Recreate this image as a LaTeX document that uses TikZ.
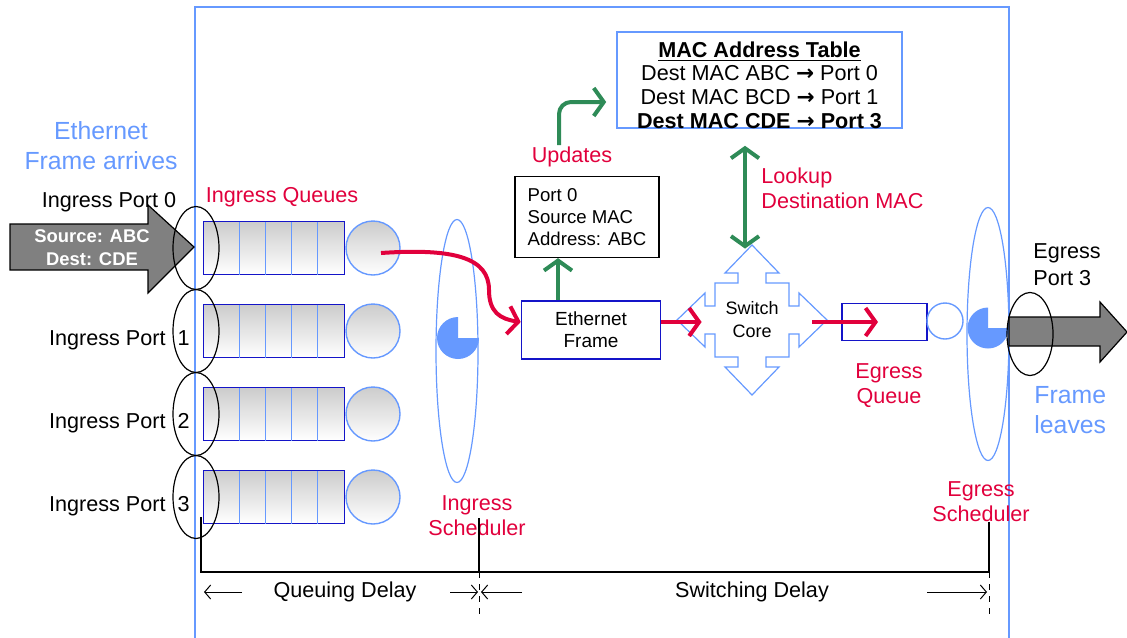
\documentclass[tikz,border=0pt]{standalone}
\usepackage{fontspec}
\setmainfont{Liberation Sans}
\newfontfamily\arrowfont{DejaVu Sans}
\usetikzlibrary{calc}
\usetikzlibrary{shapes.geometric}
\usetikzlibrary{arrows.meta}
\definecolor{skyblue}{RGB}{102,153,255}
\definecolor{qblue}{RGB}{20,20,200}
\definecolor{hotred}{RGB}{225,0,60}
\definecolor{leafgreen}{RGB}{46,139,87}
\definecolor{portgray}{RGB}{128,128,128}
\newcommand{\maps}{{\arrowfont\bfseries →}}

\begin{document}
\begin{tikzpicture}[x=0.5pt,y=-0.5pt,
    txt/.style={font=\fontsize{10.8}{12.5}\selectfont,align=center,inner sep=0pt},
    redtxt/.style={txt,text=hotred},
    bigtxt/.style={font=\fontsize{12.4}{15}\selectfont,align=center,inner sep=0pt,text=skyblue},
    queue/.style={rectangle,draw=qblue,line width=0.8pt,top color=gray!40,bottom color=white,
                  minimum width=70.5pt,minimum height=26.5pt,inner sep=0pt,outer sep=0pt},
    ball/.style={circle,draw=skyblue,line width=0.7pt,top color=gray!40,bottom color=white,
                 minimum size=27pt,inner sep=0pt,outer sep=0pt},
    port/.style={ellipse,draw=black,line width=0.6pt,minimum width=23pt,minimum height=41.5pt,inner sep=0pt},
    sched/.style={ellipse,draw=skyblue,line width=0.6pt,minimum width=21pt,inner sep=0pt},
    pie/.style={fill=skyblue},
    fatarrow/.style={fill=portgray,draw=black,line width=0.6pt},
    rarrow/.style={draw=hotred,line width=2pt,-{Straight Barb[length=5pt,width=14pt]}},
    garrow/.style={draw=leafgreen,line width=2pt,-{Straight Barb[length=5pt,width=14pt]}},
    dly/.style={line width=0.5pt,-{Straight Barb[length=3pt,width=7pt]}},
  ]
  \useasboundingbox (0,0) rectangle (1127,637);

  % switch frame
  \draw[skyblue,line width=0.8pt] (195,645) -- (195,7) -- (1009,7) -- (1009,645);

  % frame coming in
  \filldraw[fatarrow] (10,224) -- (148,224) -- (148,205) -- (194,247) -- (148,293) -- (148,270) -- (10,270) -- cycle;
  \node[txt,text=white,font=\bfseries\fontsize{9.2}{11.5}\selectfont] (src) at (92,248) {Source: ABC\\Dest: CDE};
  \node[bigtxt] (arrives) at (101,146) {Ethernet\\Frame arrives};

  % ingress ports and queues
  \foreach \i/\y in {0/248,1/331,2/414,3/497} {
    \node[queue] (q\i) at (274,\y) {};
    \foreach \d in {36,62,88,114}
      \draw[skyblue,line width=0.5pt] ($(q\i.north west)+(\d,0)$) -- ($(q\i.south west)+(\d,0)$);
    \node[ball] (c\i) at (373,\y) {};
    \node[port] (p\i) at (196,\y) {};
  }
  \node[txt] (lp0) at (109,202) {Ingress Port 0};
  \foreach \i in {1,2,3}
    \node[txt,anchor=east] (lp\i) at ($(p\i)+(-6,9)$) {Ingress Port\hspace{3pt} \i};
  \node[redtxt] (iqlbl) at (282,197) {Ingress Queues};

  % ingress scheduler
  \node[sched,minimum height=131.5pt] (isched) at (457,351) {};
  \fill[pie] ($(isched)+(1,-13)$) -- ++(0pt,10.5pt) arc[start angle=90,end angle=360,radius=10.5pt] -- cycle;
  \node[redtxt] (islbl) at (477,516) {Ingress\\Scheduler};

  % frame and learned entry
  \node[draw=qblue,line width=0.8pt,minimum width=69.5pt,minimum height=29pt,inner sep=0pt,
        font=\fontsize{9.5}{11}\selectfont,align=center] (efr) at (591,330) {Ethernet\\Frame};
  \node[draw=black,line width=0.6pt,minimum width=72pt,minimum height=40.5pt,inner sep=0pt,
        font=\fontsize{9.3}{11}\selectfont,align=left] (info) at (587,217) {Port 0\\Source MAC\\Address: ABC};
  \coordinate (gfoot) at ([xshift=-16.5pt]efr.north);
  \draw[garrow] (gfoot) -- (gfoot |- info.south);
  \node[redtxt] (upd) at (572,157) {Updates};

  % table
  \node[draw=skyblue,line width=0.8pt,minimum width=142.5pt,minimum height=48pt,inner sep=0pt] (mac) at (759.5,80) {};
  \node[font=\fontsize{10.8}{11.9}\selectfont,align=center,inner sep=0pt] (mactxt) at ($(mac.center)+(0,5)$)
        {\underline{\textbf{MAC Address Table}}\\Dest MAC ABC \maps{} Port 0\\Dest MAC BCD \maps{} Port 1\\\textbf{Dest MAC CDE \maps{} Port 3}};
  \coordinate (updfoot) at (559,145);
  \draw[garrow,rounded corners=6pt] (updfoot) |- ($(mac.west)+(-10,22)$);

  % switch core
  \node[font=\fontsize{9}{11.5}\selectfont,align=center,minimum size=75pt,inner sep=0pt] (core) at (752,320) {Switch\\Core};
  \draw[skyblue,line width=0.6pt,shift={(core.center)}]
    (0,-75) -- (27,-47) -- (14,-47) -- (14,-37) -- (37,-37) -- (37,-14) -- (47,-14) -- (47,-27)
    -- (75,0) -- (47,27) -- (47,14) -- (37,14) -- (37,37) -- (14,37) -- (14,47) -- (27,47)
    -- (0,75) -- (-27,47) -- (-14,47) -- (-14,37) -- (-37,37) -- (-37,14) -- (-47,14) -- (-47,27)
    -- (-75,0) -- (-47,-27) -- (-47,-14) -- (-37,-14) -- (-37,-37) -- (-14,-37) -- (-14,-47) -- (-27,-47) -- cycle;
  \draw[draw=leafgreen,line width=2pt,{Straight Barb[length=5pt,width=14pt]}-{Straight Barb[length=5pt,width=14pt]}]
    ($(mac.south)+(-14.5,17)$) -- ($(core.north)+(-7,4)$);
  \node[redtxt,align=left,anchor=west] (look) at (761,188) {Lookup\\Destination MAC};

  % egress side
  \node[draw=qblue,line width=0.8pt,minimum width=42.5pt,minimum height=18.5pt,inner sep=0pt] (eq) at (884.5,322) {};
  \node[circle,draw=skyblue,line width=0.7pt,minimum size=18pt,inner sep=0pt] (eball) at (945,321) {};
  \node[redtxt] (eqlbl) at (889,386) {Egress\\Queue};
  \node[sched,minimum height=126.5pt] (esched) at (988,334) {};
  \fill[pie] ($(esched)+(0,-6)$) -- ++(0pt,10.25pt) arc[start angle=90,end angle=360,radius=10.25pt] -- cycle;
  \node[redtxt] (eslbl) at (981,502) {Egress\\Scheduler};

  % frame going out
  \filldraw[fatarrow] (1009,317) -- (1100,317) -- (1100,302) -- (1127,332) -- (1100,362) -- (1100,346) -- (1009,346) -- cycle;
  \node[port] (ep) at (1030,334) {};
  \node[txt,font=\fontsize{10.8}{13.5}\selectfont,align=left,anchor=west] (eplbl) at (1033,265) {Egress\\Port 3};
  \node[bigtxt,align=left,anchor=west] (leaves) at (1034,410) {Frame\\leaves};

  % path of the frame
  \draw[rarrow] ($(c0)+(8,5)$) .. controls (455,248) and (489,258) .. (489,290)
    .. controls (489,312) and (500,319) .. ([yshift=4pt]efr.west);
  \draw[rarrow] ([yshift=4pt]efr.east) -- ($(core.west)+(25,2)$);
  \draw[rarrow] ($(core.east)+(-15,2)$) -- ($(eq.center)+(-6.5,0)$);

  % delays
  \coordinate (dl) at (201,572);
  \coordinate (dm) at (479,572);
  \coordinate (dr) at (989,572);
  \draw[line width=0.8pt] (201,517) -- (dl) -- (dr) -- (989,522);
  \draw[line width=0.8pt] (479,518) -- (dm);
  \draw[dashed,line width=0.5pt] (dm) -- ++(0,45);
  \draw[dashed,line width=0.5pt] (dr) -- ++(0,45);
  \node[txt] (qdelay) at (345,592) {Queuing Delay};
  \node[txt] (sdelay) at (752,592) {Switching Delay};
  \draw[dly] (242,592) -- (204,592);
  \draw[dly] (450,592) -- (478,592);
  \draw[dly] (522,592) -- (481,592);
  \draw[dly] (927,592) -- (987,592);
\end{tikzpicture}
\end{document}
